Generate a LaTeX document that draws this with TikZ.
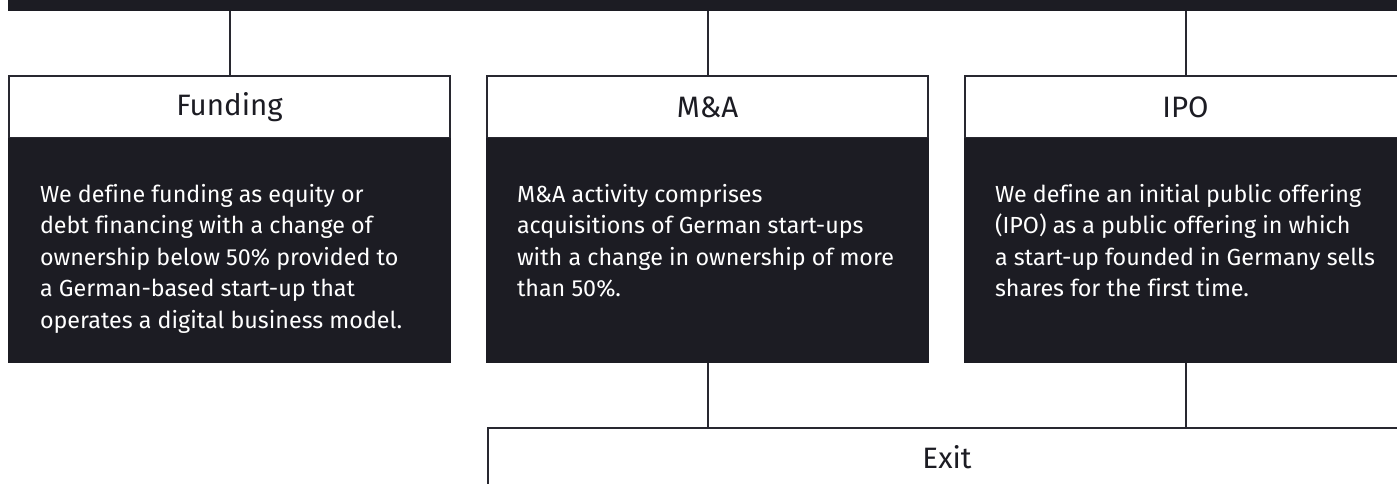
\documentclass[tikz,border=0pt]{standalone}
\usepackage{fontspec}
\setmainfont{Fira Sans}[Ligatures=NoCommon]
\definecolor{ink}{RGB}{28,28,35}
\definecolor{rule}{RGB}{40,40,48}
\begin{document}
\begin{tikzpicture}[x=1pt,y=-1pt,
  darkbox/.style={rectangle, fill=ink, draw=none, inner sep=0pt, outer sep=0pt},
  headbox/.style={rectangle, fill=white, draw=rule, line width=2pt, inner sep=0pt, outer sep=0pt,
    minimum width=441pt, minimum height=62pt, text=ink, font=\fontsize{29.5}{34}\selectfont},
  bodybox/.style={darkbox, minimum width=443pt, minimum height=225pt},
  bodytext/.style={inner sep=0pt, outer sep=0pt, align=left, text=white,
    font=\fontsize{23.3}{31.5}\selectfont},
  conn/.style={draw=rule, line width=2pt}]
\useasboundingbox (0,0) rectangle (1397,484);
\clip (0,0) rectangle (1397,484);

% parent box along the top edge
\node[darkbox, anchor=south west, minimum width=1400pt, minimum height=40pt] (top) at (8,11) {};

% Funding
\node[headbox, anchor=north west] (fundH) at (9,76) {Funding};
\node[bodybox, anchor=north west] (fundB) at (8,138) {};
\node[bodytext, anchor=north west] (fundT) at (40,184)
  {We define funding as equity or\\debt financing with a change of\\ownership below 50\% provided to\\a German-based start-up that\\operates a digital business model.};

% M&A
\node[headbox, anchor=north west] (maH) at (487,76) {M\&A};
\node[bodybox, anchor=north west] (maB) at (486,138) {};
\node[bodytext, anchor=north west] (maT) at (517,184)
  {M\&A activity comprises\\acquisitions of German start-ups\\with a change in ownership of more\\than 50\%.};

% IPO
\node[headbox, anchor=north west] (ipoH) at (965,76) {IPO};
\node[bodybox, anchor=north west] (ipoB) at (964,138) {};
\node[bodytext, anchor=north west] (ipoT) at (995,184)
  {We define an initial public offering\\(IPO) as a public offering in which\\a start-up founded in Germany sells\\shares for the first time.};

% Exit
\node[headbox, anchor=north west, minimum width=918pt, minimum height=58pt] (exit) at (488,428) {Exit};

% connectors
\draw[conn] (top.south -| fundH.north) -- (fundH.north);
\draw[conn] (top.south -| maH.north) -- (maH.north);
\draw[conn] (top.south -| ipoH.north) -- (ipoH.north);
\draw[conn] (maB.south) -- (exit.north -| maB.south);
\draw[conn] (ipoB.south) -- (exit.north -| ipoB.south);
\end{tikzpicture}
\end{document}
